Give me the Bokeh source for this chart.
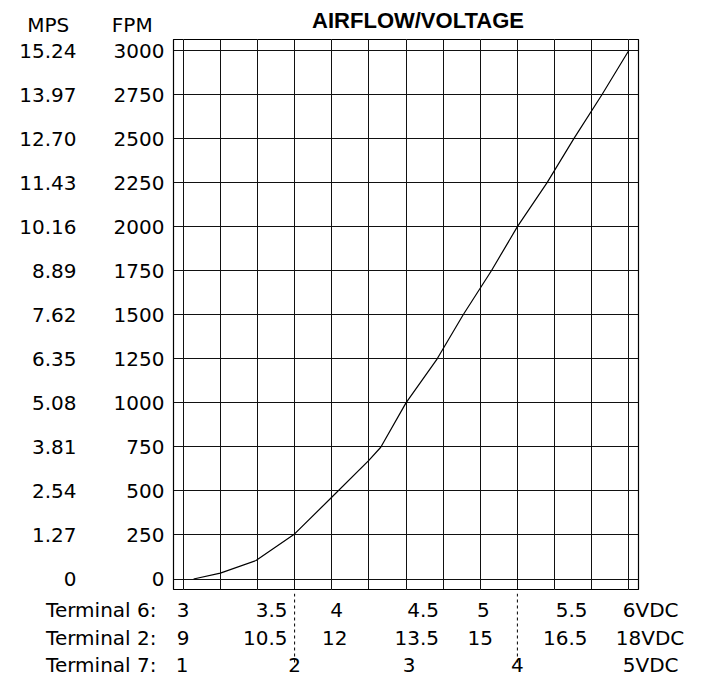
import numpy as np
from bokeh.plotting import figure
from bokeh.layouts import column
from bokeh.models import Range1d, LinearAxis, FixedTicker, Grid
from bokeh.core.properties import value
from bokeh.embed import file_html
from bokeh.resources import INLINE

# ---------------- data ----------------
# airflow curve: Terminal-6 voltage (VDC) vs airflow (FPM)
curve_t6 = [3.07, 3.25, 3.49, 3.75, 4.0, 4.25, 4.33, 4.5, 4.71, 4.885, 5.075, 5.25, 5.45, 5.63, 5.82, 6.0]
curve_fpm = [0, 33, 105, 256, 464, 673, 748, 1000, 1250, 1500, 1750, 2000, 2250, 2500, 2750, 3000]

fpm_ticks = [0, 250, 500, 750, 1000, 1250, 1500, 1750, 2000, 2250, 2500, 2750, 3000]
mps_labels = ["0", "1.27", "2.54", "3.81", "5.08", "6.35", "7.62", "8.89",
              "10.16", "11.43", "12.70", "13.97", "15.24"]

t6_values = [3, 3.5, 4, 4.5, 5, 5.5, 6]
t6_labels = ["3", "3.5", "4", "4.5", "5", "5.5", "6VDC"]
t2_values = [9, 10.5, 12, 13.5, 15, 16.5, 18]
t2_labels = ["9", "10.5", "12", "13.5", "15", "16.5", "18VDC"]
t7_values = [1, 2, 3, 4, 5]
t7_labels = ["1", "2", "3", "4", "5VDC"]
row_titles = ["Terminal 6:", "Terminal 2:", "Terminal 7:"]
divider_t7 = [2, 4]
title_text = "AIRFLOW/VOLTAGE"
unit_headers = ["MPS", "FPM"]

# ---------------- layout / style ----------------
FONT = "DejaVu Sans"
FS = "20px"
W = 690
BL, BR = 173, 52                  # main frame borders (px)
BB = 4                            # room below the frame for the "0" labels
X0, X1 = 2.9347, 6.0653           # Terminal-6 scale of the main frame
S = (X1 - X0) / (W - BL - BR)     # volts per pixel
Y0, Y1 = -59.6, 3062.4            # FPM scale of the main frame
grid_t6 = list(np.arange(3.0, 6.0001, 0.25))
TOP_H, MAIN_H, BOT_H = 39, 550 + BB, 93 - BB

def t2_range(a, b):
    return Range1d(3 * a, 3 * b)

def t7_range(a, b):
    return Range1d(1 + (a - 3) * 4 / 3, 1 + (b - 3) * 4 / 3)

# ---- main chart ----
p = figure(width=W, height=MAIN_H, x_range=Range1d(X0, X1), y_range=Range1d(Y0, Y1),
           x_axis_location=None, toolbar_location=None, output_backend="svg",
           min_border_left=BL, min_border_right=BR, min_border_top=0, min_border_bottom=BB,
           frame_align=False)
p.background_fill_color = "white"
p.border_fill_color = "white"
p.outline_line_color = "black"
p.outline_line_width = 1.2

ya = p.yaxis[0]
ya.ticker = FixedTicker(ticks=fpm_ticks)

mps_axis = LinearAxis(ticker=FixedTicker(ticks=fpm_ticks),
                      major_label_overrides={t: s for t, s in zip(fpm_ticks, mps_labels)})
p.add_layout(mps_axis, "left")

for ax, standoff in [(ya, 9), (mps_axis, 34)]:
    ax.axis_line_color = None
    ax.major_tick_line_color = None
    ax.minor_tick_line_color = None
    ax.major_tick_out = 0
    ax.major_tick_in = 0
    ax.minor_tick_out = 0
    ax.minor_tick_in = 0
    ax.major_label_standoff = standoff
    ax.major_label_text_font = FONT
    ax.major_label_text_font_size = FS
    ax.major_label_text_color = "black"

p.ygrid.ticker = FixedTicker(ticks=fpm_ticks)
p.ygrid.grid_line_color = "#111111"
p.ygrid.grid_line_width = 1
p.add_layout(Grid(dimension=0, ticker=FixedTicker(ticks=grid_t6),
                  grid_line_color="#111111", grid_line_width=1))

p.line(curve_t6, curve_fpm, line_color="black", line_width=1.2)

# ---- strips above and below (same voltage scale, full-width frames) ----
def strip(height):
    sx0, sx1 = X0 - BL * S, X1 + BR * S
    f = figure(width=W, height=height, x_range=Range1d(sx0, sx1), y_range=Range1d(height, 0),
               x_axis_location=None, y_axis_location=None, toolbar_location=None,
               output_backend="svg", min_border=0, frame_align=False)
    f.outline_line_color = None
    f.background_fill_color = "white"
    f.border_fill_color = "white"
    f.center = [c for c in f.center if not isinstance(c, Grid)]
    f.extra_x_ranges = {"t2": t2_range(sx0, sx1), "t7": t7_range(sx0, sx1)}
    return f

def put(f, x, y, s, align="center", dx=0, rng="default", font=FONT, size=FS, style="normal"):
    f.text(x=[x], y=[y], text=[s], text_align=align, text_baseline="alphabetic",
           x_offset=dx, text_font=value(font), text_font_size=size,
           text_font_style=style, text_color="black", x_range_name=rng)

top = strip(TOP_H)
put(top, 4.581, 20.0, title_text, font="Liberation Sans", size="22px", style="bold")
for t, x in zip(unit_headers, [2.091, 2.657]):
    put(top, x, 24.7, t)

bot = strip(BOT_H)
row_y = [20.3 - BB, 48.0 - BB, 75.7 - BB]
for v in divider_t7:
    bot.segment(x0=[v], y0=[0], x1=[v], y1=[73 - BB], line_color="black", line_width=1,
                line_dash="3 3", x_range_name="t7")

rows = [
    (t6_values, t6_labels, "default",
     ["center", "right", "center", "right", "center", "right", "left"], [0, 30, 5, 33, 3, 33, -6]),
    (t2_values, t2_labels, "t2",
     ["center", "right", "center", "right", "center", "right", "left"], [0, 30, 3, 33, 0, 33, -13]),
    (t7_values, t7_labels, "t7",
     ["center", "center", "center", "center", "left"], [-1, 0, 3, 0, -6]),
]
for (vals, labs, rng, aligns, offs), y, title in zip(rows, row_y, row_titles):
    for v, s, a, o in zip(vals, labs, aligns, offs):
        put(bot, v, y, s, align=a, dx=o, rng=rng)
    put(bot, 2.82, y, title, align="right")

layout = column(top, p, bot, spacing=0)
open("out.html", "w").write(file_html(layout, INLINE))
